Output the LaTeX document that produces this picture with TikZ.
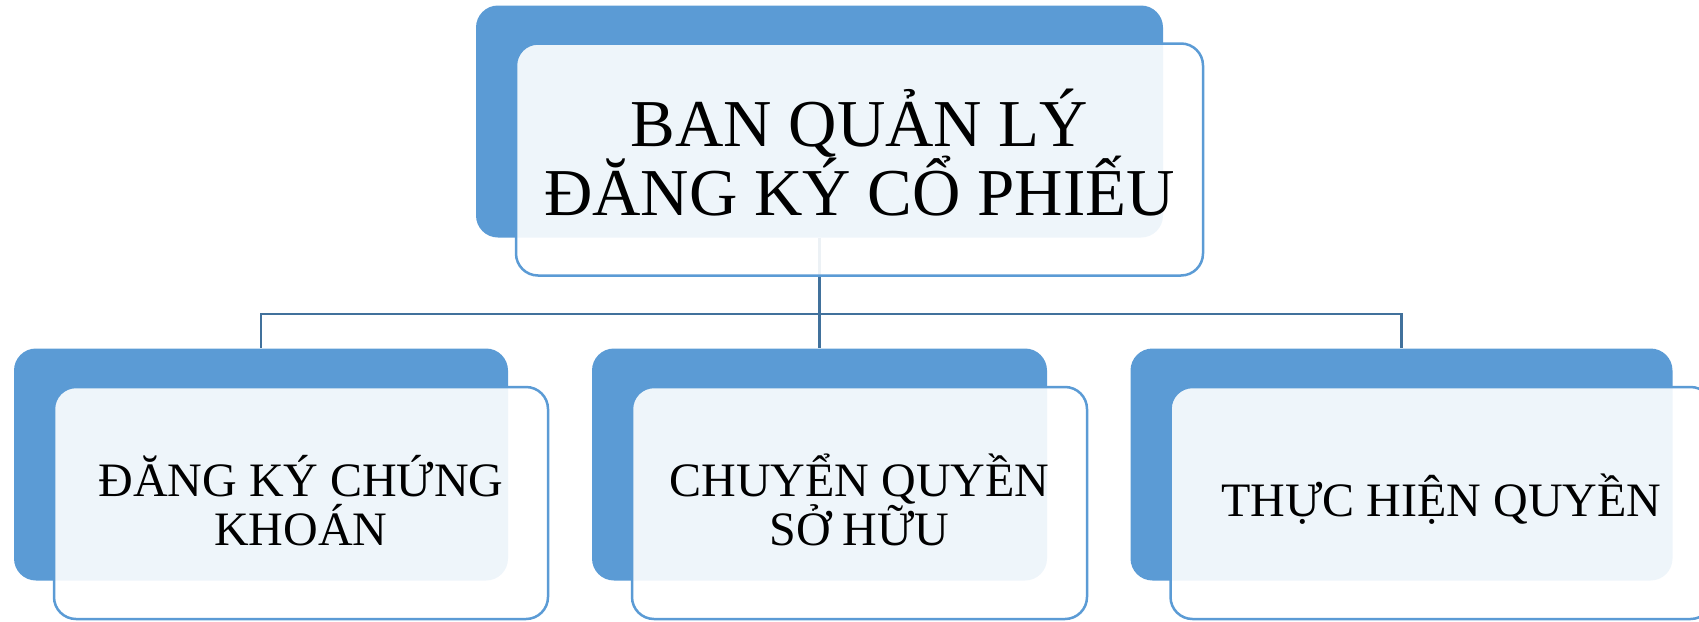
\documentclass[tikz,border=0pt]{standalone}
\usepackage{fontspec}
\setmainfont{Liberation Serif}
\definecolor{smartblue}{HTML}{5B9BD5}
\definecolor{linkblue}{HTML}{41719C}
\newcommand{\tightlines}{\lineskiplimit=-100pt\relax}
\tikzset{
	bigtext/.style={font=\fontsize{67}{69}\selectfont\tightlines},
	smalltext/.style={font=\fontsize{48}{49}\selectfont\tightlines}
}
\begin{document}
\begin{tikzpicture}[x=1pt,y=-1pt]
	\useasboundingbox (0,0) rectangle (1699,621);
		\begin{scope}[every node/.style={rectangle,rounded corners=22pt,fill=smartblue,inner sep=0pt}]
			\node[minimum width=687pt,minimum height=232pt] (topback) at (819.5,121.5) {};
			\node[minimum width=494pt,minimum height=232pt] (regback) at (261,464.5) {};
			\node[minimum width=455pt,minimum height=232pt] (transback) at (819.5,464.5) {};
			\node[minimum width=542pt,minimum height=232pt] (exerback) at (1401.5,464.5) {};
		\end{scope}

\coordinate (bus) at (819.5,314);
\begin{scope}[line width=2.5pt,draw=linkblue]
\draw (topback.south) -- (bus);
\draw (bus) -| (regback.north);
\draw (bus) -- (transback.north);
\draw (bus) -| (exerback.north);
\end{scope}

		\begin{scope}[every node/.style={rectangle,rounded corners=22pt,draw=smartblue,line width=2.5pt,fill=white,fill opacity=0.9,text opacity=1,align=center,inner sep=0pt}]
			\node[minimum width=687pt,minimum height=232pt,bigtext,text depth=14pt] (top) at (859.5,159.5) {BAN QUẢN LÝ\\ĐĂNG KÝ CỔ PHIẾU};
			\node[minimum width=494pt,minimum height=232pt,smalltext,text depth=5pt] (reg) at (301,503) {ĐĂNG KÝ CHỨNG\\KHOÁN};
			\node[minimum width=455pt,minimum height=232pt,smalltext,text depth=7pt] (trans) at (859.5,503) {CHUYỂN QUYỀN\\SỞ HỮU};
			\node[minimum width=542pt,minimum height=232pt,smalltext,text depth=16pt] (exer) at (1441.5,503) {THỰC HIỆN QUYỀN};
		\end{scope}
	\end{tikzpicture}
\end{document}
